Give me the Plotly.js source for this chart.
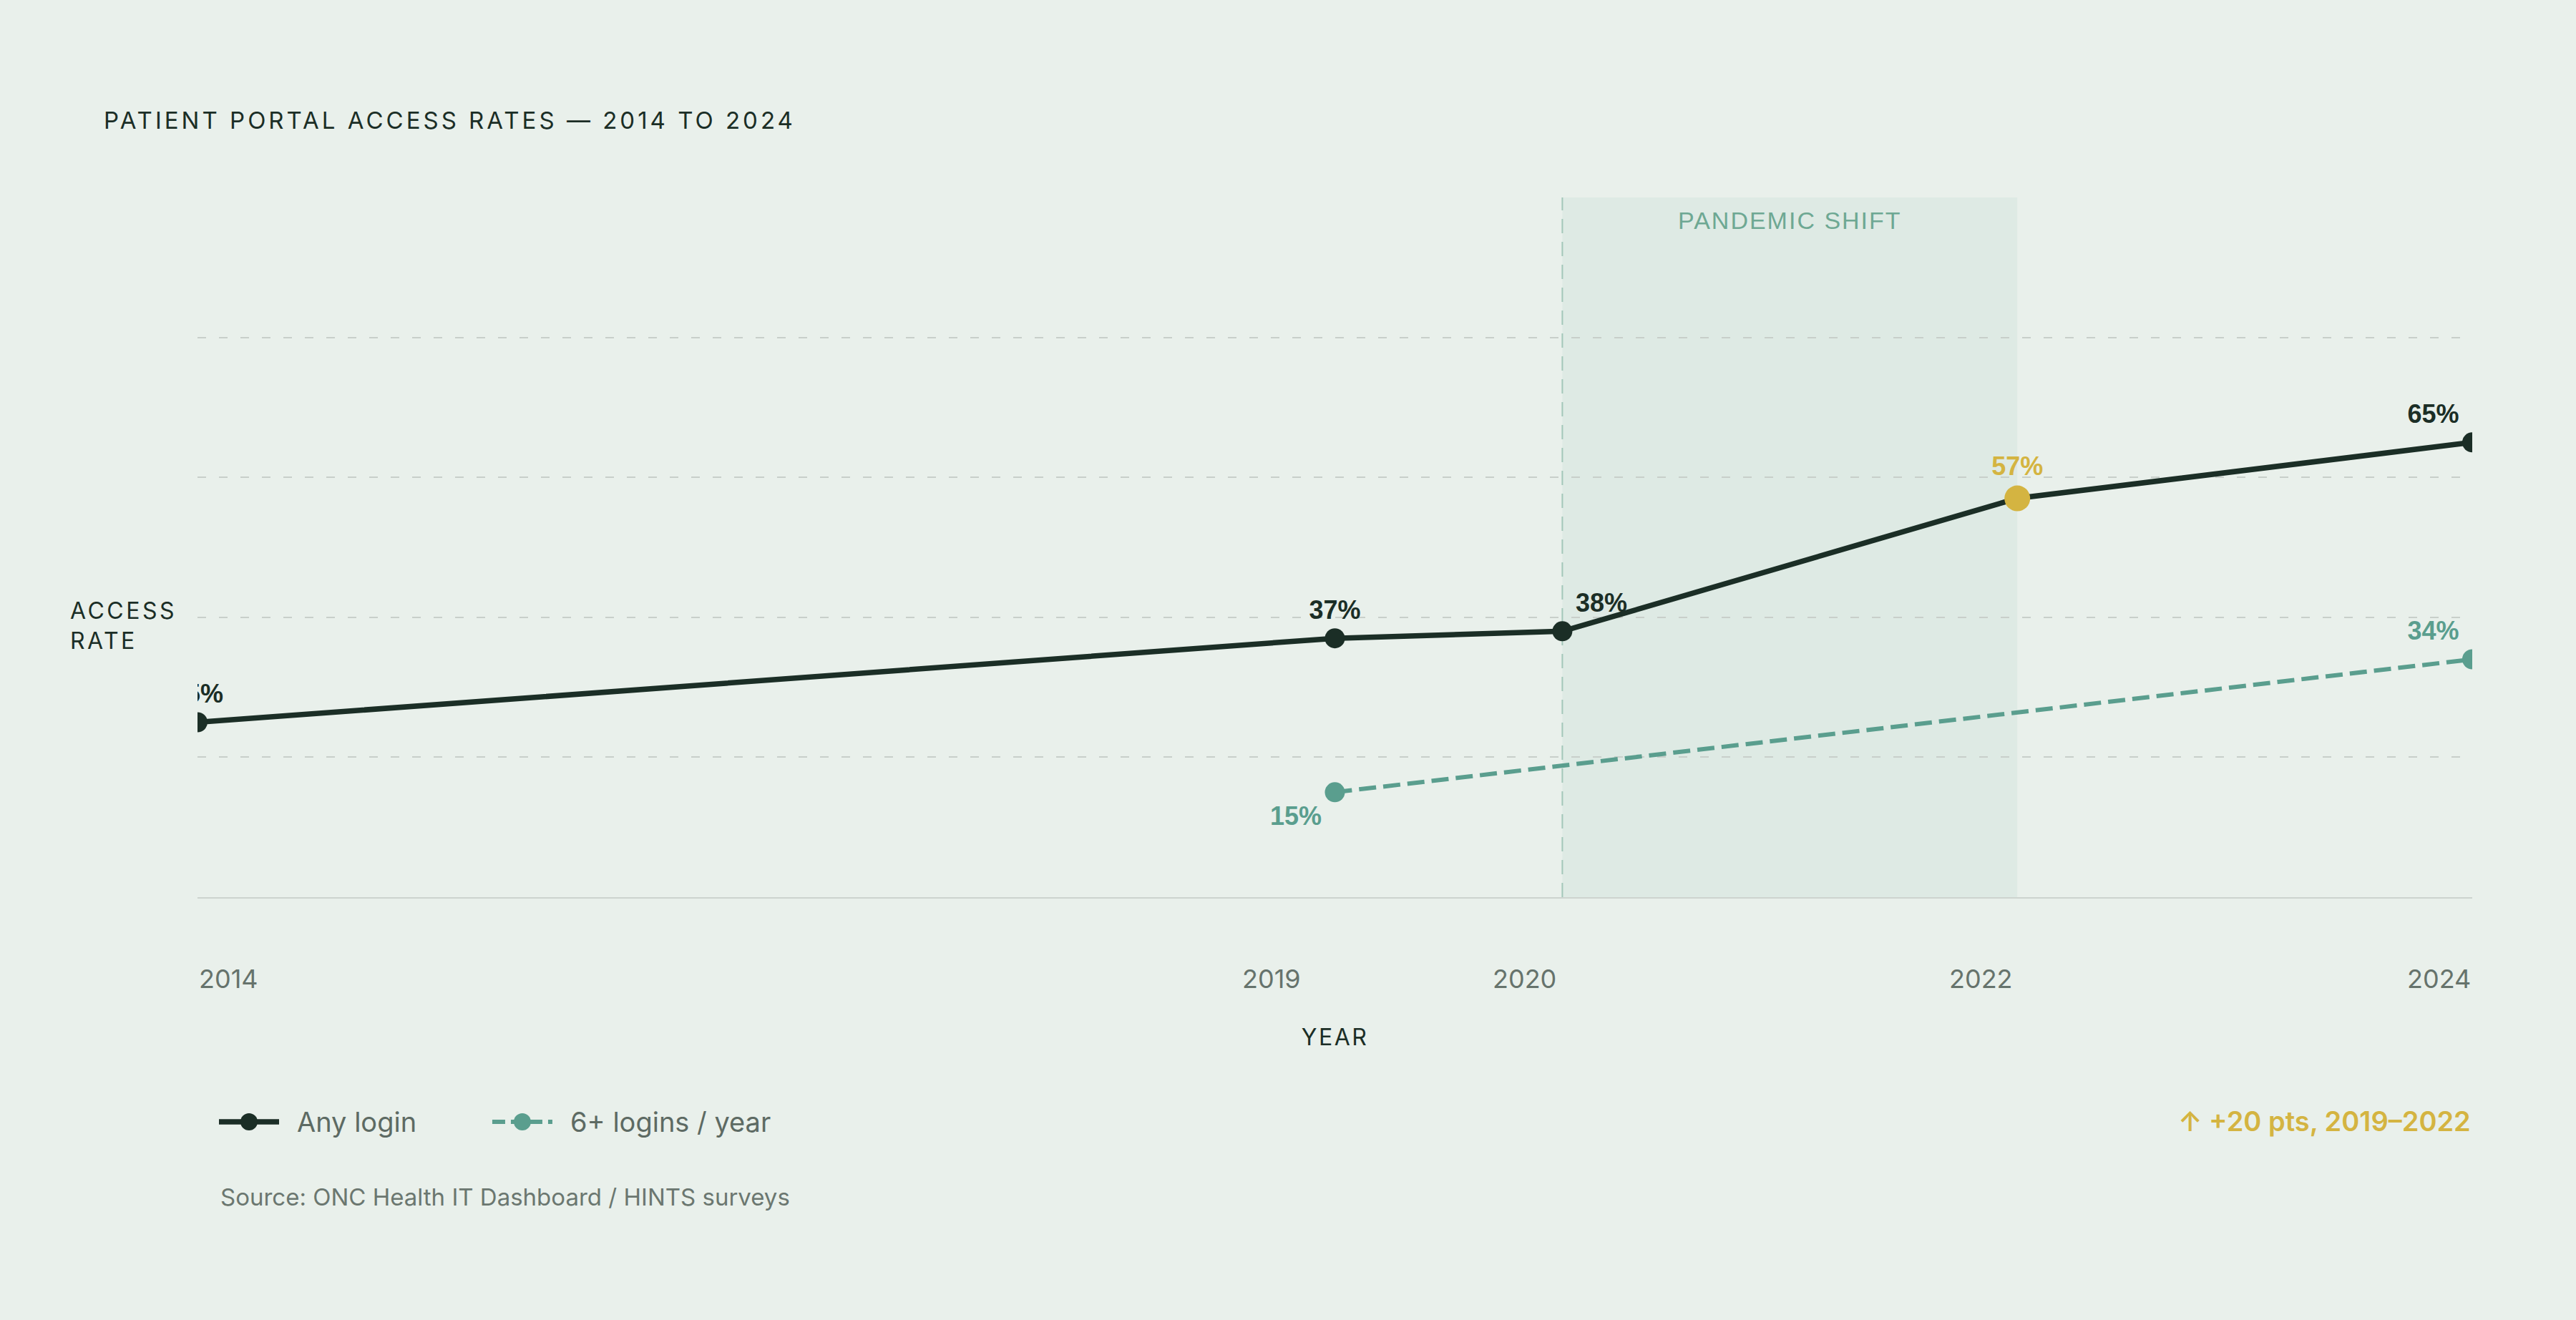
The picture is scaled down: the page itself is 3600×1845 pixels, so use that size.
<!DOCTYPE html>
<html>
<head>
<meta charset="utf-8">
<script src="https://cdn.plot.ly/plotly-3.0.1.min.js"></script>
<style>
  html, body { margin: 0; padding: 0; background: #e9f0eb; }
  #chart { width: 3600px; height: 1845px; }
  .gtitle { letter-spacing: 4px; }
  .xtitle { letter-spacing: 2.5px; }
  .annotation[data-index="0"] .annotation-text { letter-spacing: 3.5px; }
  .annotation[data-index="1"] .annotation-text { letter-spacing: 2px; }
</style>
</head>
<body>
<div id="chart"></div>
<script>
// values
var years = [2014, 2019, 2020, 2022, 2024];
var anyLogin = [25, 37, 38, 57, 65];
var frequentYears = [2019, 2024];
var frequentLogin = [15, 34];
var tickYears = [2014, 2019, 2020, 2022, 2024];
var tickLabels = ['2014', '2019', '2020', '2022', '2024'];
var gridValues = [20, 40, 60, 80];
var pandemicSpan = [2020, 2022];
var highlightYear = 2022;

var BG = '#e9f0eb';
var DARK = '#1b2e26';
var TEAL = '#5a9e8e';
var GOLD = '#d4b441';
var SANS = 'Inter, "DejaVu Sans", sans-serif';
var LABEL = '"Liberation Sans", Arial, sans-serif';

// label placement per point (style only)
var anyPos = ['top center', 'top center', 'top right', 'top center', 'top left'];
var freqPos = ['bottom left', 'top left'];
var tickAnchor = ['left', 'right', 'right', 'right', 'right'];
var tickShift = [0, -46, -6, -4, 0];

var anyTrace = {
  x: years,
  y: anyLogin,
  name: 'Any login',
  mode: 'lines+markers+text',
  type: 'scatter',
  line: { color: DARK, width: 7.5 },
  marker: {
    color: years.map(function (y) { return y === highlightYear ? GOLD : DARK }),
    size: years.map(function (y) { return y === highlightYear ? 36 : 28 }),
    opacity: 1,
    line: { width: 0 }
  },
  text: anyLogin.map(function (v) { return v + '%' }),
  textposition: anyPos,
  textfont: {
    family: LABEL, size: 36, weight: 700,
    color: years.map(function (y) { return y === highlightYear ? GOLD : DARK })
  },
  showlegend: false,
  hoverinfo: 'skip'
};

var freqTrace = {
  x: frequentYears,
  y: frequentLogin,
  name: '6+ logins / year',
  mode: 'lines+markers+text',
  type: 'scatter',
  line: { color: TEAL, width: 6, dash: '24px,10px' },
  marker: { color: TEAL, size: 28, opacity: 1, line: { width: 0 } },
  text: frequentLogin.map(function (v) { return v + '%' }),
  textposition: freqPos,
  textfont: { family: LABEL, size: 36, weight: 700, color: TEAL },
  showlegend: false,
  hoverinfo: 'skip'
};

var annotations = [
  {
    text: 'ACCESS<br>RATE', xref: 'paper', yref: 'paper', x: -0.0566, y: 0.3885,
    xanchor: 'left', yanchor: 'middle', align: 'left', showarrow: false,
    font: { family: SANS, size: 32, color: DARK }
  },
  {
    text: 'PANDEMIC SHIFT', xref: 'x', yref: 'paper',
    x: (pandemicSpan[0] + pandemicSpan[1]) / 2, y: 0.967,
    xanchor: 'center', yanchor: 'middle', showarrow: false,
    font: { family: LABEL, size: 34, color: '#6ea893' }
  },
  {
    text: 'Source: ONC Health IT Dashboard / HINTS surveys', xref: 'paper', yref: 'paper',
    x: 0.0094, y: -0.4284, xanchor: 'left', yanchor: 'middle', showarrow: false,
    font: { family: SANS, size: 33, color: '#6b7770' }
  },
  {
    text: '↑ +20 pts, 2019–2022', xref: 'paper', yref: 'paper',
    x: 1, y: -0.320, xanchor: 'right', yanchor: 'middle', showarrow: false,
    font: { family: SANS, size: 38, weight: 600, color: GOLD }
  }
];

tickYears.forEach(function (yr, i) {
  annotations.push({
    text: tickLabels[i], xref: 'x', yref: 'paper', x: yr, y: -0.1166,
    xanchor: tickAnchor[i], yanchor: 'middle', xshift: tickShift[i], showarrow: false,
    font: { family: SANS, size: 36, color: '#66736c' }
  });
});

var shapes = [
  {
    type: 'rect', xref: 'x', yref: 'paper', x0: pandemicSpan[0], x1: pandemicSpan[1], y0: 0, y1: 1,
    fillcolor: 'rgba(90,158,142,0.07)', line: { width: 0 }, layer: 'below'
  },
  {
    type: 'line', xref: 'x', yref: 'paper', x0: pandemicSpan[0], x1: pandemicSpan[0], y0: 0, y1: 1,
    line: { color: '#a3c7b9', width: 2, dash: '20px,12px' }, layer: 'below'
  }
];

// legend drawn below the plot: symbol line + dot, then the trace name
var legendY = -0.321;
var legendItems = [
  { trace: anyTrace, at: 0.02265, textAt: 0.0431, dash: 'solid' },
  { trace: freqTrace, at: 0.1428, textAt: 0.1633, dash: '18px,8px' }
];
legendItems.forEach(function (item) {
  var c = item.trace.line.color;
  shapes.push({
    type: 'line', xref: 'paper', yref: 'paper', xsizemode: 'pixel', ysizemode: 'pixel',
    xanchor: item.at, yanchor: legendY, x0: -42, x1: 42, y0: 0, y1: 0,
    line: { color: c, width: item.trace.line.width, dash: item.dash }
  });
  shapes.push({
    type: 'circle', xref: 'paper', yref: 'paper', xsizemode: 'pixel', ysizemode: 'pixel',
    xanchor: item.at, yanchor: legendY, x0: -12, x1: 12, y0: -12, y1: 12,
    fillcolor: c, line: { width: 0 }
  });
  annotations.push({
    text: item.trace.name, xref: 'paper', yref: 'paper', x: item.textAt, y: legendY,
    xanchor: 'left', yanchor: 'middle', showarrow: false,
    font: { family: SANS, size: 38, color: '#5d6a63' }
  });
});

var layout = {
  width: 3600,
  height: 1845,
  paper_bgcolor: BG,
  plot_bgcolor: BG,
  margin: { l: 276, r: 145, t: 276, b: 591 },
  title: {
    text: 'PATIENT PORTAL ACCESS RATES — 2014 TO 2024',
    x: 145 / 3600, xanchor: 'left', xref: 'container',
    y: 1 - 168 / 1845, yanchor: 'middle', yref: 'container',
    font: { family: SANS, size: 33, color: DARK }
  },
  showlegend: false,
  xaxis: {
    range: [2014, 2024],
    showgrid: false, zeroline: false, showticklabels: false, ticks: '',
    showline: true, linecolor: '#cdd4cf', linewidth: 2,
    title: { text: 'YEAR', standoff: 184, font: { family: SANS, size: 32, color: DARK } },
    fixedrange: true
  },
  yaxis: {
    range: [0, 100],
    tickvals: gridValues, showticklabels: false, ticks: '',
    showgrid: true, gridcolor: '#c8cfca', gridwidth: 2, griddash: '12px,18px',
    zeroline: false, showline: false, fixedrange: true
  },
  shapes: shapes,
  annotations: annotations,
  hovermode: false
};

Plotly.newPlot('chart', [anyTrace, freqTrace], layout, { displayModeBar: false, staticPlot: true });
</script>
</body>
</html>
